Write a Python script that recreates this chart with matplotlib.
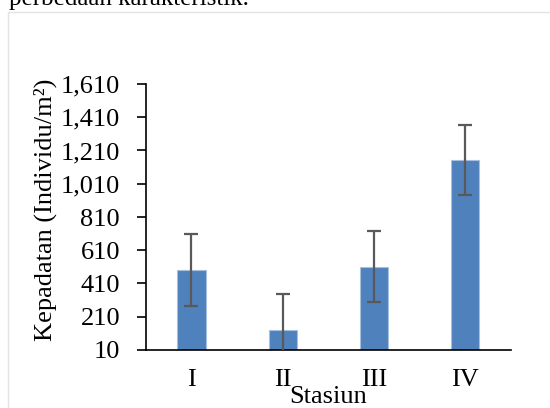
import matplotlib.pyplot as plt
from matplotlib.patches import Rectangle

# data
stasiun = ['I', 'II', 'III', 'IV']
kepadatan = [491, 132, 511, 1152]
galat = [216, 212, 212, 212]
y_ticks = [10, 210, 410, 610, 810, 1010, 1210, 1410, 1610]

plt.rcParams['font.family'] = ['Liberation Serif', 'DejaVu Serif']

fig = plt.figure(figsize=(5.5, 4.08), dpi=100)

# light frame around chart area and the cut-off caption above it
fig.patches.append(Rectangle((8 / 550, -0.1), 1.0, 1 - 12 / 408 + 0.1,
                             transform=fig.transFigure, fill=False,
                             edgecolor='#e3e3e3', linewidth=1.0))
fig.text(9 / 550, 1 - 5 / 408, 'perbedaan karakteristik.', fontsize=18,
         va='baseline', ha='left', color='black')

ax = fig.add_axes([145.7 / 550, 1 - 350 / 408, (511 - 145.7) / 550, (350 - 84) / 408])

x = range(len(stasiun))
ax.bar(x, kepadatan, width=0.31, color='#4f81bd', edgecolor='#a7c0de',
       linewidth=0.8, zorder=2)
ax.errorbar(x, kepadatan, yerr=galat, fmt='none', ecolor='#595959',
            elinewidth=1.6, capsize=5, capthick=1.6, zorder=3, clip_on=True)

ax.set_xlim(-0.5, 3.5)
ax.set_ylim(10, 1610)
ax.set_yticks(y_ticks)
ax.set_yticklabels([f'{v:,}' for v in y_ticks])
ax.set_xticks(list(x))
ax.set_xticklabels(stasiun)

ax.spines['top'].set_visible(False)
ax.spines['right'].set_visible(False)
ax.spines['left'].set_linewidth(1.2)
ax.spines['bottom'].set_linewidth(1.2)
ax.tick_params(axis='y', length=6.5, width=1.2, labelsize=19, pad=12)
ax.tick_params(axis='x', length=0, labelsize=19, pad=14)

ax.set_xlabel('Stasiun', fontsize=19, labelpad=-4)
ax.set_ylabel('Kepadatan (Individu/m²)', fontsize=19)
ax.yaxis.set_label_coords(-0.243, 0.526)

fig.savefig('out.png', dpi=100)
